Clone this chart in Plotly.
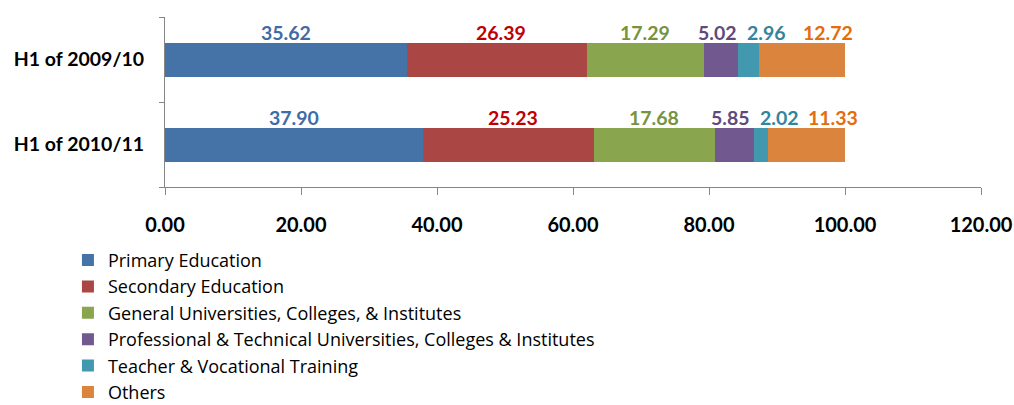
import plotly.graph_objects as go

periods = ["H1 of 2009/10", "H1 of 2010/11"]
sectors = [
    "Primary Education",
    "Secondary Education",
    "General Universities, Colleges, & Institutes",
    "Professional & Technical Universities, Colleges & Institutes",
    "Teacher & Vocational Training",
    "Others",
]
shares = {
    "Primary Education": [35.62, 37.90],
    "Secondary Education": [26.39, 25.23],
    "General Universities, Colleges, & Institutes": [17.29, 17.68],
    "Professional & Technical Universities, Colleges & Institutes": [5.02, 5.85],
    "Teacher & Vocational Training": [2.96, 2.02],
    "Others": [12.72, 11.33],
}
x_ticks = [0, 20, 40, 60, 80, 100, 120]

bar_colors = ["#4572A7", "#AA4643", "#89A54E", "#71588F", "#4198AF", "#DB843D"]
label_colors = ["#3E6CA6", "#C00000", "#77933C", "#604A7B", "#31859C", "#E46C0A"]
# small horizontal nudges (px) so the narrow-segment labels do not collide
label_nudge = [0, 4, 0, -4, 18, 26]

fig = go.Figure()
for name, color in zip(sectors, bar_colors):
    fig.add_trace(
        go.Bar(
            y=periods,
            x=shares[name],
            name=name,
            orientation="h",
            marker=dict(color=color, line=dict(width=0)),
            width=0.4,
        )
    )

# value labels above each segment
for i, period in enumerate(periods):
    left = 0.0
    for name, lc, dx in zip(sectors, label_colors, label_nudge):
        v = shares[name][i]
        fig.add_annotation(
            x=left + v / 2,
            y=period,
            text=f"{v:.2f}",
            showarrow=False,
            xshift=dx,
            yshift=27,
            font=dict(family="Lato", size=19.5, color=lc, weight="bold"),
        )
        left += v

fig.update_layout(
    barmode="stack",
    width=1014,
    height=405,
    margin=dict(l=165, r=33, t=17, b=218, autoexpand=False),
    plot_bgcolor="white",
    paper_bgcolor="white",
    font=dict(family="Lato", color="#000000"),
    legend=dict(
        traceorder="normal",
        xref="container",
        yref="container",
        x=0.067,
        y=0.403,
        xanchor="left",
        yanchor="top",
        font=dict(family="Open Sans", size=18),
        itemwidth=30,
        tracegroupgap=0,
    ),
    xaxis=dict(
        range=[0, 120],
        tickvals=x_ticks,
        tickformat=".2f",
        tickangle=0,
        showgrid=False,
        showline=True,
        linecolor="#868686",
        ticks="outside",
        tickcolor="#868686",
        ticklen=7,
        ticklabelstandoff=13,
        tickfont=dict(family="Lato", size=20, weight="bold"),
        zeroline=False,
    ),
    yaxis=dict(
        categoryorder="array",
        categoryarray=periods[::-1],
        showgrid=False,
        showline=True,
        linecolor="#868686",
        ticks="outside",
        tickson="boundaries",
        tickcolor="#868686",
        ticklen=5,
        ticklabelstandoff=16,
        tickfont=dict(family="Lato", size=19.5, weight="bold"),
    ),
    showlegend=True,
)

# drop the default body margin so the figure sits at the window's top-left
fig.write_html(
    "out.html",
    config={"displayModeBar": False},
    post_script="document.body.style.margin = '0';",
)
